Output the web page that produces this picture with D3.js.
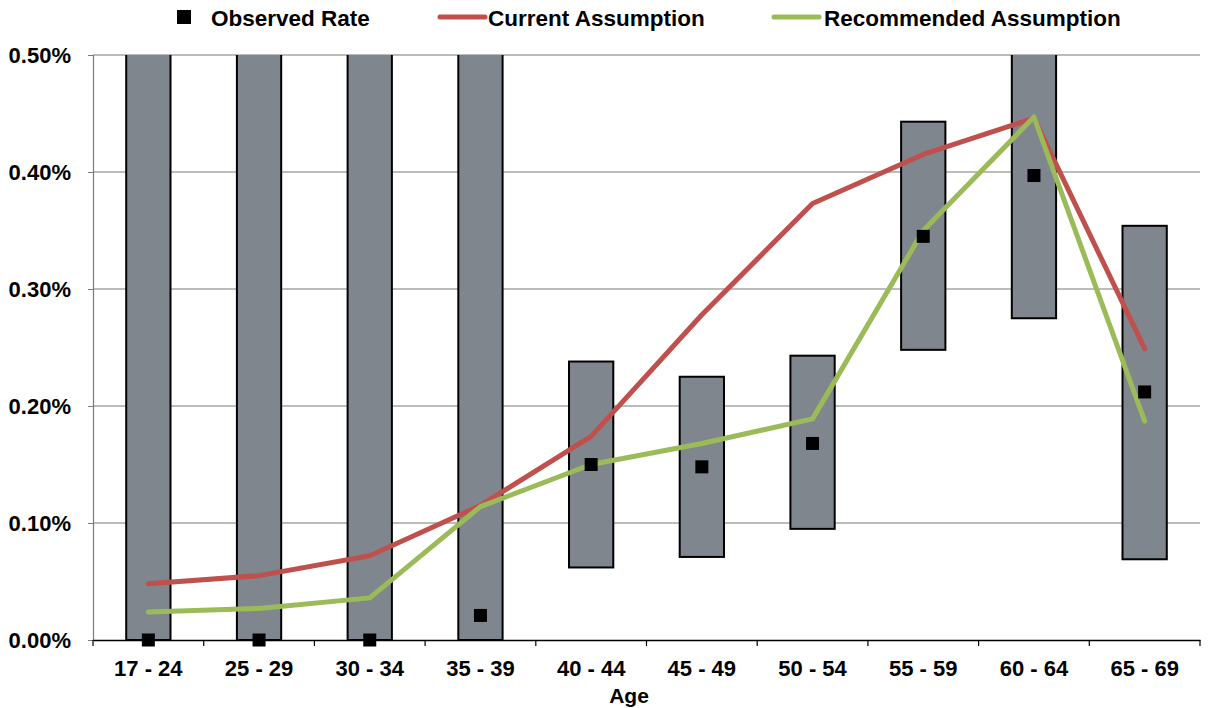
<!DOCTYPE html>
<html>
<head>
<meta charset="utf-8">
<script src="https://cdn.jsdelivr.net/npm/d3@7"></script>
<style>
  html, body { margin: 0; padding: 0; background: #fff; }
  svg { display: block; font-family: "Liberation Sans", Arial, sans-serif; }
</style>
</head>
<body>
<svg id="chart" width="1208" height="708"></svg>
<script>
// Age bands and rates (in percent)
const categories = ["17 - 24", "25 - 29", "30 - 34", "35 - 39", "40 - 44", "45 - 49", "50 - 54", "55 - 59", "60 - 64", "65 - 69"];
const observedRate = [0, 0, 0, 0.021, 0.150, 0.148, 0.168, 0.345, 0.397, 0.212];
const rangeLow  = [0, 0, 0, 0, 0.062, 0.071, 0.095, 0.248, 0.275, 0.069];
const rangeHigh = [0.62, 0.62, 0.62, 0.62, 0.238, 0.225, 0.243, 0.443, 0.62, 0.354];
const currentAssumption     = [0.048, 0.055, 0.072, 0.115, 0.174, 0.278, 0.373, 0.415, 0.446, 0.249];
const recommendedAssumption = [0.024, 0.027, 0.036, 0.114, 0.150, 0.168, 0.189, 0.350, 0.447, 0.187];
const yTicks = [0, 0.1, 0.2, 0.3, 0.4, 0.5];

const svg = d3.select("#chart");
const plotLeft = 93, plotRight = 1200, plotTop = 55, plotBottom = 640;
const labelFont = "Liberation Sans, Arial, sans-serif";

const x = d3.scaleBand().domain(categories).range([plotLeft, plotRight]).paddingInner(0).paddingOuter(0);
const y = d3.scaleLinear().domain([0, 0.5]).range([plotBottom, plotTop]);
const cx = c => x(c) + x.bandwidth() / 2;
const boxW = x.bandwidth() * 0.4;

svg.append("defs").append("clipPath").attr("id", "plotClip")
  .append("rect").attr("x", plotLeft).attr("y", plotTop)
  .attr("width", plotRight - plotLeft).attr("height", plotBottom - plotTop);

// horizontal gridlines
svg.append("g").selectAll("line").data(yTicks.filter(t => t > 0)).join("line")
  .attr("x1", plotLeft).attr("x2", plotRight)
  .attr("y1", d => y(d)).attr("y2", d => y(d))
  .attr("stroke", "#7a7a7a").attr("stroke-width", 1.2);

// y axis
const yAxis = d3.axisLeft(y).tickValues(yTicks).tickSize(5).tickPadding(17)
  .tickFormat(d => d3.format(".2f")(d) + "%");
const gy = svg.append("g").attr("transform", `translate(${plotLeft},0)`).call(yAxis);
gy.select(".domain").attr("stroke", "#7a7a7a").attr("stroke-width", 1.2);
gy.selectAll(".tick line").attr("stroke", "#7a7a7a");
gy.selectAll("text").attr("font-size", 22).attr("font-weight", "bold").attr("fill", "#000")
  .attr("font-family", labelFont);

// range boxes
const plot = svg.append("g").attr("clip-path", "url(#plotClip)");
plot.selectAll("rect.range").data(categories).join("rect")
  .attr("class", "range")
  .attr("x", (c) => cx(c) - boxW / 2)
  .attr("width", boxW)
  .attr("y", (c, i) => y(rangeHigh[i]))
  .attr("height", (c, i) => y(rangeLow[i]) - y(rangeHigh[i]))
  .attr("fill", "#80868d").attr("stroke", "#000").attr("stroke-width", 2);

// x axis
const xAxis = d3.axisBottom(x).tickSize(0).tickPadding(20);
const gx = svg.append("g").attr("transform", `translate(0,${plotBottom})`).call(xAxis);
gx.select(".domain").attr("stroke", "#000").attr("stroke-width", 1.5);
gx.selectAll("text").attr("font-size", 22).attr("font-weight", "bold").attr("fill", "#000")
  .attr("font-family", labelFont);
// tick marks at band boundaries
svg.append("g").selectAll("line").data(categories.concat([null])).join("line")
  .attr("x1", (c, i) => plotLeft + i * x.bandwidth())
  .attr("x2", (c, i) => plotLeft + i * x.bandwidth())
  .attr("y1", plotBottom).attr("y2", plotBottom + 6)
  .attr("stroke", "#000").attr("stroke-width", 1.2);

// assumption lines
const line = d3.line().x((d, i) => cx(categories[i])).y(d => y(d));
plot.append("path").datum(currentAssumption)
  .attr("d", line).attr("fill", "none").attr("stroke", "#c0504d")
  .attr("stroke-width", 5).attr("stroke-linecap", "round").attr("stroke-linejoin", "round");
plot.append("path").datum(recommendedAssumption)
  .attr("d", line).attr("fill", "none").attr("stroke", "#9bbb59")
  .attr("stroke-width", 5).attr("stroke-linecap", "round").attr("stroke-linejoin", "round");

// observed rate markers
const sq = 13;
svg.append("g").selectAll("rect").data(observedRate).join("rect")
  .attr("x", (d, i) => cx(categories[i]) - sq / 2)
  .attr("y", d => y(d) - sq / 2)
  .attr("width", sq).attr("height", sq)
  .attr("fill", "#000");

// axis title
svg.append("text").attr("x", 629).attr("y", 703).attr("text-anchor", "middle")
  .attr("font-size", 21).attr("font-weight", "bold").text("Age");

// legend
const lg = svg.append("g").attr("font-size", 22.5).attr("font-weight", "bold");
lg.append("rect").attr("x", 177).attr("y", 10).attr("width", 14).attr("height", 14).attr("fill", "#000");
lg.append("text").attr("x", 211).attr("y", 26).text("Observed Rate");
lg.append("line").attr("x1", 440).attr("x2", 485).attr("y1", 17).attr("y2", 17)
  .attr("stroke", "#c0504d").attr("stroke-width", 5).attr("stroke-linecap", "round");
lg.append("text").attr("x", 488).attr("y", 26).text("Current Assumption");
lg.append("line").attr("x1", 774).attr("x2", 819).attr("y1", 17).attr("y2", 17)
  .attr("stroke", "#9bbb59").attr("stroke-width", 5).attr("stroke-linecap", "round");
lg.append("text").attr("x", 824).attr("y", 26).text("Recommended Assumption");
</script>
</body>
</html>
